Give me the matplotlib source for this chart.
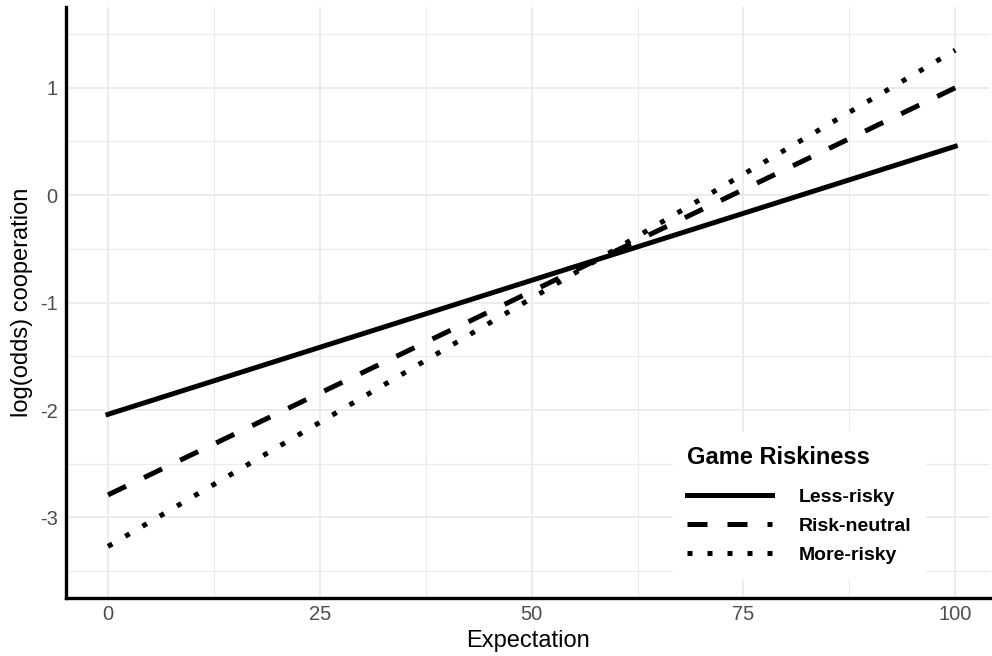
import matplotlib.pyplot as plt
import numpy as np

plt.rcParams['font.family'] = ['Liberation Sans', 'DejaVu Sans']
plt.rcParams['axes.unicode_minus'] = False

# fitted lines: value at expectation 0 and at 100
expectation = [0, 100]
less_risky = [-2.04, 0.455]
risk_neutral = [-2.79, 1.0]
more_risky = [-3.27, 1.35]

labels = ['Less-risky', 'Risk-neutral', 'More-risky']
styles = ['-', (0, (4, 4)), (0, (1, 3))]

fig = plt.figure(figsize=(9.92, 6.56), dpi=100)
ax = fig.add_axes([0.0665, 0.0884, 0.9315, 0.9006])

for vals, lab, ls in zip([less_risky, risk_neutral, more_risky], labels, styles):
    ax.plot(expectation, vals, color='black', lw=3.6, linestyle=ls,
            dash_capstyle='butt', label=lab, zorder=3)

ax.set_xlim(-4.96, 104.1)
ax.set_ylim(-3.75, 1.75)
ax.set_xticks([0, 25, 50, 75, 100])
ax.set_xticks(np.arange(12.5, 100, 25), minor=True)
ax.set_yticks([-3, -2, -1, 0, 1])
ax.set_yticks([-3.5, -2.5, -1.5, -0.5, 0.5, 1.5], minor=True)
ax.grid(which='major', color='#EBEBEB', lw=1.3)
ax.grid(which='minor', color='#EBEBEB', lw=0.8)
ax.set_axisbelow(True)

ax.tick_params(which='both', length=0)
ax.tick_params(axis='x', pad=5, labelsize=14.5, labelcolor='#4D4D4D')
ax.tick_params(axis='y', pad=6, labelsize=14.5, labelcolor='#4D4D4D')

for s in ['top', 'right']:
    ax.spines[s].set_visible(False)
for s in ['left', 'bottom']:
    ax.spines[s].set_linewidth(2.4)
    ax.spines[s].set_color('black')

ax.set_xlabel('Expectation', fontsize=17, labelpad=4)
ax.set_ylabel('log(odds) cooperation', fontsize=17, labelpad=5)

leg = ax.legend(title='Game Riskiness', loc='upper left',
                bbox_to_anchor=(0.657, 0.281), frameon=True, fancybox=False,
                prop={'weight': 'bold', 'size': 14},
                title_fontproperties={'weight': 'bold', 'size': 17},
                handlelength=4.4, handletextpad=1.35, labelspacing=0.6,
                borderpad=0.7, borderaxespad=0)
leg.get_frame().set_facecolor('white')
leg.get_frame().set_edgecolor('white')
leg.get_frame().set_alpha(1)
leg._legend_box.align = 'left'
leg._legend_box.sep = 14

fig.savefig('out.png', dpi=100)
